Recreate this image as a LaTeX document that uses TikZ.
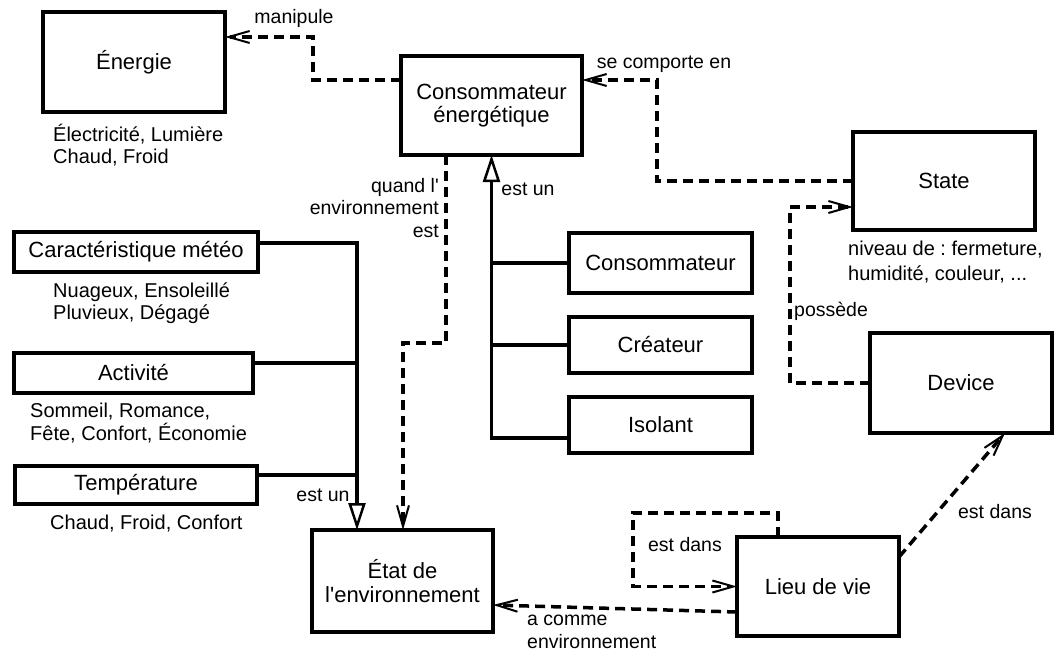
\documentclass[tikz,border=0pt]{standalone}
\usepackage{fontspec}
\setmainfont{Liberation Sans}[Ligatures=TeXOff]
\usetikzlibrary{arrows.meta}
\frenchspacing
\begin{document}
\begin{tikzpicture}[x=1pt,y=-1pt,
  box/.style={draw,line width=4pt,inner sep=0pt,outer sep=0pt,font=\fontsize{22}{23.5}\selectfont,align=center},
  lbl/.style={inner sep=0pt,font=\fontsize{19.5}{22.5}\selectfont},
  sub/.style={inner sep=0pt,font=\fontsize{20}{23}\selectfont,anchor=base west},
  dep/.style={line width=3.5pt,dash pattern=on 10pt off 6pt,-{Straight Barb[length=21pt,width=12pt,line width=2pt]}},
  inh/.style={line width=3.5pt,-{Triangle[open,length=27pt,width=17pt,line width=2.5pt]}},
  solidln/.style={line width=3.5pt}
]
\fill[white] (0,0) rectangle (1060,653);
\useasboundingbox (0,0) rectangle (1060,653);

% boxes
\node[box,minimum width=182pt,minimum height=100pt] (energie) at (134,62) {Énergie};
\node[box,minimum width=181pt,minimum height=99pt] (conso) at (491.5,105.5) {Consommateur\\énergétique};
\node[box,minimum width=182pt,minimum height=98pt] (state) at (944,181) {State};
\node[box,minimum width=182pt,minimum height=100pt] (device) at (961,383) {Device};
\node[box,minimum width=162pt,minimum height=99pt] (lieu) at (818,586.5) {Lieu de vie};
\node[box,minimum width=181pt,minimum height=102pt,font=\fontsize{22}{24.5}\selectfont] (etat) at (402.5,581) {État de\\l'environnement};
\node[box,minimum width=183pt,minimum height=60pt] (consommateur) at (660.5,263) {Consommateur};
\node[box,minimum width=183pt,minimum height=56pt] (createur) at (660.5,345) {Créateur};
\node[box,minimum width=183pt,minimum height=56pt] (isolant) at (660.5,425) {Isolant};
\node[box,minimum width=244pt,minimum height=40pt] (meteo) at (136,252) {Caractéristique météo};
\node[box,minimum width=239pt,minimum height=40pt] (activite) at (133.5,373) {Activité};
\node[box,minimum width=242pt,minimum height=38pt] (temperature) at (136,485) {Température};

% sub texts
\node[sub] (tenergie1) at (53,141) {Électricité, Lumière};
\node[sub] (tenergie2) at (53,163) {Chaud, Froid};
\node[sub] (tstate1) at (848,255) {niveau de : fermeture,};
\node[sub] (tstate2) at (848,280) {humidité, couleur, ...};
\node[sub] (tmeteo1) at (53,297) {Nuageux, Ensoleillé};
\node[sub] (tmeteo2) at (53,319) {Pluvieux, Dégagé};
\node[sub] (tactivite1) at (30,417) {Sommeil, Romance,};
\node[sub] (tactivite2) at (30,440) {Fête, Confort, Économie};
\node[sub] (ttemp) at (50,529) {Chaud, Froid, Confort};

% connectors
\draw[dep] (conso.west |- 0,80) -| (313,37) -- (energie.east |- 0,37);
\draw[dep] (state.west) -| (657,80) -- (conso.east |- 0,80);
\draw[dep] (device.west) -| (790,207) -- (state.west |- 0,207);
\draw[dep] (conso.south -| 446,0) |- (403,343) -- (etat.north -| 403,0);

\draw[inh] (isolant.west |- 0,438) -| (conso.south);
\draw[solidln] (consommateur.west) -- (consommateur.west -| conso.south);
\draw[solidln] (createur.west) -- (createur.west -| conso.south);

\draw[inh] (meteo.east |- 0,243) -| (etat.north -| 357,0);
\draw[solidln] (activite.east |- 0,363) -- (357,363);
\draw[solidln] (temperature.east |- 0,475) -- (357,475);

\draw[dep] (lieu.west |- 0,612) -- (etat.east |- 0,605);
\draw[dep] (lieu.north -| 778,0) |- (633,513) |- (lieu.west);
\draw[dep] (lieu.north east |- 0,557) -- (device.south -| 1005,0);

% labels
\node[lbl] (lmanip) at (294,18) {manipule};
\node[lbl] (lcomp) at (664,64) {se comporte en};
\node[lbl,anchor=west] (lposs) at (794,311) {possède};
\node[lbl,anchor=east,align=right] (lquand) at (439,208) {quand l'\\environnement\\est};
\node[lbl] (lestun1) at (528,189) {est un};
\node[lbl] (lestun2) at (323,495) {est un};
\node[lbl,anchor=west,align=left] (lacomme) at (527,632) {a comme\\environnement};
\node[lbl] (ldans1) at (685,545) {est dans};
\node[lbl] (ldans2) at (995,512) {est dans};
\end{tikzpicture}
\end{document}
